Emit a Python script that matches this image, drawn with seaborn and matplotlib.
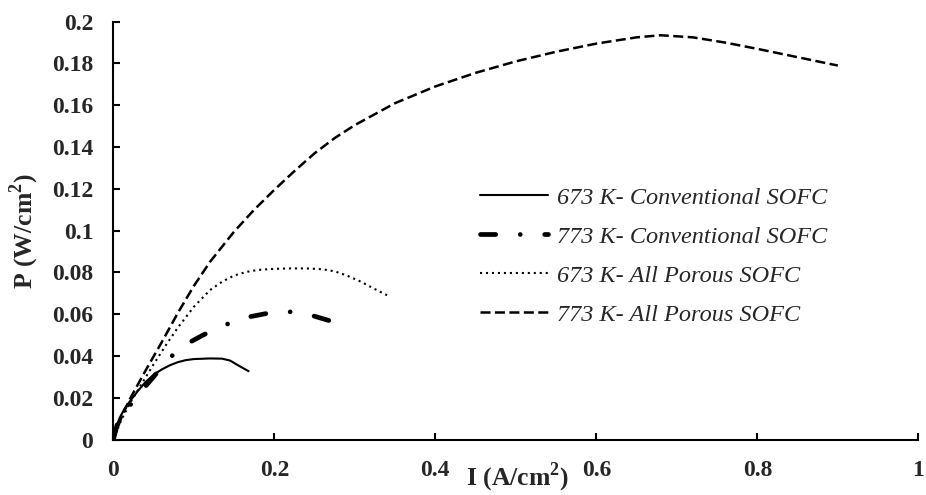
import matplotlib
matplotlib.use("Agg")
import matplotlib.pyplot as plt
import seaborn as sns
import pandas as pd

# ---- data ----
I_673_conv = [0, 0.004, 0.008, 0.015, 0.02, 0.03, 0.04, 0.05, 0.06, 0.07, 0.08, 0.09, 0.10,
              0.12, 0.135, 0.145, 0.155, 0.168]
P_673_conv = [0, 0.0065, 0.0105, 0.0155, 0.018, 0.023, 0.0275, 0.031, 0.0335, 0.0355, 0.037, 0.038, 0.0385,
              0.0388, 0.0387, 0.0378, 0.0355, 0.0327]

I_773_conv = [0, 0.005, 0.01, 0.03, 0.05, 0.065, 0.078, 0.09, 0.11, 0.13, 0.15, 0.17, 0.19, 0.21,
              0.23, 0.25, 0.27, 0.282]
P_773_conv = [0, 0.0075, 0.011, 0.021, 0.030, 0.037, 0.042, 0.0455, 0.0497, 0.0535, 0.0565, 0.0588, 0.0603,
              0.0612, 0.061, 0.059, 0.0567, 0.0555]

I_673_por = [0, 0.01, 0.02, 0.035, 0.05, 0.065, 0.08, 0.10, 0.12, 0.135, 0.15, 0.165, 0.18, 0.20, 0.22,
             0.24, 0.26, 0.275, 0.29, 0.305, 0.32, 0.33, 0.342]
P_673_por = [0, 0.0095, 0.017, 0.0265, 0.036, 0.045, 0.0535, 0.0635, 0.0715, 0.0755, 0.0785, 0.0802, 0.0812,
             0.0817, 0.0819, 0.0819, 0.0815, 0.0805, 0.0785, 0.076, 0.073, 0.071, 0.0687]

I_773_por = [0, 0.01, 0.02, 0.04, 0.06, 0.08, 0.10, 0.12, 0.15, 0.175, 0.20, 0.225, 0.25, 0.275, 0.30,
             0.35, 0.40, 0.45, 0.50, 0.55, 0.60, 0.65, 0.68, 0.72, 0.76, 0.80, 0.85, 0.90]
P_773_por = [0, 0.0105, 0.019, 0.033, 0.0465, 0.0605, 0.0735, 0.085, 0.0995, 0.110, 0.1195, 0.1285, 0.137,
             0.1443, 0.1505, 0.161, 0.169, 0.1755, 0.181, 0.1856, 0.1895, 0.1925, 0.1935, 0.1925, 0.190,
             0.187, 0.183, 0.179]

labels = ["673 K- Conventional SOFC", "773 K- Conventional SOFC",
          "673 K- All Porous SOFC", "773 K- All Porous SOFC"]

x_ticks = [0, 0.2, 0.4, 0.6, 0.8, 1.0]
x_tick_labels = ["0", "0.2", "0.4", "0.6", "0.8", "1"]
y_ticks = [0, 0.02, 0.04, 0.06, 0.08, 0.10, 0.12, 0.14, 0.16, 0.18, 0.20]
y_tick_labels = ["0", "0.02", "0.04", "0.06", "0.08", "0.1", "0.12", "0.14", "0.16", "0.18", "0.2"]

# ---- style ----
sns.set_style("ticks")
plt.rcParams["font.family"] = ["Liberation Serif", "DejaVu Serif"]
plt.rcParams["lines.scale_dashes"] = False
plt.rcParams["mathtext.fontset"] = "custom"
plt.rcParams["mathtext.rm"] = "Liberation Serif:bold"
plt.rcParams["mathtext.bf"] = "Liberation Serif:bold"

fig = plt.figure(figsize=(9.26, 4.95), dpi=100)
ax = fig.add_axes([0.1224, 0.1121, 0.8693, 0.8441])

series = [
    (I_673_conv, P_673_conv, dict(linestyle="-", linewidth=1.5)),
    (I_773_conv, P_773_conv, dict(linestyle=(0, (11, 17.6, 0.01, 17.6)), linewidth=3.4,
                                  dash_capstyle="round")),
    (I_673_por, P_673_por, dict(linestyle=(0, (1.5, 2.8)), linewidth=1.5)),
    (I_773_por, P_773_por, dict(linestyle=(0, (7.2, 3.2)), linewidth=1.8)),
]

for (xs, ys, kw), lab in zip(series, labels):
    df = pd.DataFrame({"I": xs, "P": ys})
    sns.lineplot(data=df, x="I", y="P", ax=ax, color="black", sort=False,
                 estimator=None, label=lab, **kw)

ax.set_xlim(0, 1)
ax.set_ylim(0, 0.2)
ax.set_xticks(x_ticks)
ax.set_xticklabels(x_tick_labels)
ax.set_yticks(y_ticks)
ax.set_yticklabels(y_tick_labels)
for t in ax.get_xticklabels() + ax.get_yticklabels():
    t.set_fontweight("bold")
    t.set_fontsize(17)
ax.tick_params(axis="both", direction="in", length=5, width=1.5, color="black")
ax.tick_params(axis="x", pad=14.5)
ax.tick_params(axis="y", pad=14.5)

for s in ["top", "right"]:
    ax.spines[s].set_visible(False)
for s in ["left", "bottom"]:
    ax.spines[s].set_linewidth(1.5)
    ax.spines[s].set_color("black")

ax.set_xlabel(r"I (A/cm$^{2}$)", fontsize=18.5, fontweight="bold")
ax.set_ylabel(r"P (W/cm$^{2}$)", fontsize=18.5, fontweight="bold")
ax.xaxis.set_label_coords(0.502, -0.050)
ax.yaxis.set_label_coords(-0.090, 0.5)

leg = ax.legend(loc="upper left", bbox_to_anchor=(0.4555, 0.605), frameon=False,
                borderpad=0, borderaxespad=0, handlelength=2.8, handletextpad=0.35,
                labelspacing=0.70, prop={"family": "Liberation Serif", "style": "italic", "size": 17.5})

fig.savefig("out.png", dpi=100)
